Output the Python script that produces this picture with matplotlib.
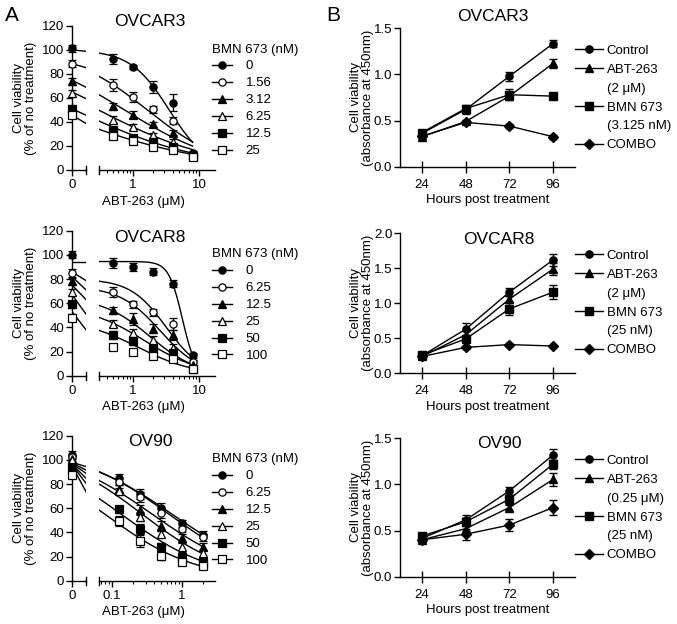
import numpy as np
import matplotlib
matplotlib.use("Agg")
import matplotlib.pyplot as plt
from matplotlib.lines import Line2D

plt.rcParams['font.family'] = ['Liberation Sans', 'DejaVu Sans']
plt.rcParams['font.size'] = 9.5
plt.rcParams['axes.linewidth'] = 1.0

# ---------------- panel A: ABT-263 dose response with BMN 673 ----------------
a_cells = ["OVCAR3", "OVCAR8", "OV90"]
a_bmn = [["0", "1.56", "3.12", "6.25", "12.5", "25"],
         ["0", "6.25", "12.5", "25", "50", "100"],
         ["0", "6.25", "12.5", "25", "50", "100"]]
a_doses = [[0.5, 1, 2, 4, 8],
           [0.5, 1, 2, 4, 8],
           [0.125, 0.25, 0.5, 1, 2]]

# viability at ABT-263 = 0
ovcar3_zero = [101.5, 88.5, 74, 64, 51, 46]
ovcar8_zero = [100, 85, 78, 69, 59, 48]
ov90_zero = [104, 102, 100.5, 99.5, 94, 87.6]

ovcar3_mean = [[92.5, 86, 69, 56, 14],
               [70.6, 61, 50.7, 41, 13],
               [53, 46, 38, 31, 13],
               [42, 36, 29, 23.5, 12.5],
               [33, 27, 23, 19, 12],
               [28.5, 24.4, 19.4, 17, 11]]
ovcar3_err = [[4, 1.5, 5, 7, 2], [5, 4, 3, 3, 2], [3, 3, 2, 2, 2],
              [3, 2, 2, 2, 2], [2, 2, 2, 2, 2], [2, 2, 2, 2, 2]]

ovcar8_mean = [[93, 90, 86, 76, 17],
               [69, 59, 52.5, 43, 11],
               [54, 47, 39, 33.7, 9],
               [43, 35.6, 29.5, 23, 7],
               [33.7, 28.7, 22, 19, 5.5],
               [24, 20, 16.5, 13.5, 5.5]]
ovcar8_err = [[4, 3, 3, 3, 2], [4, 3, 3, 5, 2], [3, 5, 4, 4, 2],
              [3, 3, 3, 3, 2], [3, 3, 3, 3, 2], [2, 2, 2, 2, 2]]

ov90_mean = [[85, 72, 60, 47.5, 38],
             [82, 69, 56, 43, 36],
             [76, 58.5, 45, 35, 28],
             [74, 53, 38.4, 28, 22.6],
             [59, 43, 28, 20, 15.7],
             [49.4, 33, 20.4, 15.7, 12]]
ov90_err = [[3, 4, 4, 3, 3], [3, 4, 4, 3, 3], [3, 4, 4, 4, 3],
            [3, 4, 3, 4, 3], [3, 4, 3, 3, 3], [4, 5, 3, 2, 2]]

zero_err = 3

# fitted curves (top, IC50, hill), bottom = 0
ovcar3_fit = [(100, 3.54, 1.48), (100, 1.65, 0.75), (100, 0.746, 0.585),
              (100, 0.30, 0.483), (100, 0.131, 0.441), (100, 0.052, 0.377)]
ovcar8_fit = [(94.5, 5.59, 4.23), (80, 3.2, 1.6), (74, 2.6, 1.4),
              (65, 1.8, 1.2), (58, 1.5, 1.0), (47, 1.2, 1.0)]
ov90_fit = [(110, 0.72, 0.625), (110, 0.65, 0.66), (110, 0.375, 0.64),
            (110, 0.27, 0.69), (110, 0.135, 0.66), (110, 0.079, 0.66)]

# fitted line across the "0" segment (value at left, value at right)
ovcar3_zline = [(100, 99), (88.6, 85.3), (74.8, 69), (65, 59.5), (51, 45.7), (45.7, 38.8)]
ovcar8_zline = [(94.5, 94.5), (86, 78.7), (82, 71), (75, 63), (67, 51), (53, 38)]
ov90_zline = [(98, 94.4), (97.5, 91.6), (97, 88.9), (96.5, 84.8), (96, 80.6), (95, 73.7)]

a_zero = [ovcar3_zero, ovcar8_zero, ov90_zero]
a_mean = [ovcar3_mean, ovcar8_mean, ov90_mean]
a_err = [ovcar3_err, ovcar8_err, ov90_err]
a_fit = [ovcar3_fit, ovcar8_fit, ov90_fit]
a_zline = [ovcar3_zline, ovcar8_zline, ov90_zline]
a_xlim = [(0.305, 17.5), (0.305, 17.5), (0.065, 2.95)]
a_major = [[1, 10], [1, 10], [0.1, 1]]
a_major_lbl = [["1", "10"], ["1", "10"], ["0.1", "1"]]

# ---------------- panel B: growth over time ----------------
hours = [24, 48, 72, 96]
b_cells = ["OVCAR3", "OVCAR8", "OV90"]
b_groups = ["Control", "ABT-263", "BMN 673", "COMBO"]
b_doses = [["(2 \u03bcM)", "(3.125 nM)"],
           ["(2 \u03bcM)", "(25 nM)"],
           ["(0.25 \u03bcM)", "(25 nM)"]]
b_ylim = [1.5, 2.0, 1.5]
b_yticks = [[0, 0.5, 1.0, 1.5], [0, 0.5, 1.0, 1.5, 2.0], [0, 0.5, 1.0, 1.5]]

ovcar3_abs = [[0.36, 0.62, 0.98, 1.335],
              [0.325, 0.49, 0.765, 1.12],
              [0.37, 0.63, 0.78, 0.765],
              [0.33, 0.48, 0.44, 0.325]]
ovcar3_abs_err = [[0.02, 0.05, 0.05, 0.04], [0.02, 0.02, 0.03, 0.05],
                  [0.02, 0.03, 0.06, 0.02], [0.02, 0.02, 0.02, 0.02]]
ovcar8_abs = [[0.25, 0.63, 1.16, 1.62],
              [0.24, 0.55, 1.06, 1.49],
              [0.26, 0.49, 0.92, 1.16],
              [0.24, 0.37, 0.41, 0.39]]
ovcar8_abs_err = [[0.02, 0.09, 0.06, 0.08], [0.02, 0.05, 0.04, 0.08],
                  [0.02, 0.04, 0.09, 0.1], [0.02, 0.02, 0.02, 0.02]]
ov90_abs = [[0.415, 0.615, 0.93, 1.32],
            [0.40, 0.52, 0.75, 1.055],
            [0.44, 0.595, 0.84, 1.22],
            [0.40, 0.46, 0.56, 0.75]]
ov90_abs_err = [[0.02, 0.05, 0.04, 0.06], [0.02, 0.03, 0.03, 0.07],
                [0.02, 0.04, 0.05, 0.05], [0.02, 0.06, 0.06, 0.08]]
b_abs = [ovcar3_abs, ovcar8_abs, ov90_abs]
b_err = [ovcar3_abs_err, ovcar8_abs_err, ov90_abs_err]

# ------------------------------------------------------------------
W, H = 677, 624
fig = plt.figure(figsize=(W / 100, H / 100), dpi=100)


def add_ax(x0, x1, ytop, ybot):
    return fig.add_axes([x0 / W, 1 - ybot / H, (x1 - x0) / W, (ybot - ytop) / H])


def logistic(x, top, ic50, hill):
    return top / (1 + (x / ic50) ** hill)


a_styles = [('o', 'k'), ('o', 'w'), ('^', 'k'), ('^', 'w'), ('s', 'k'), ('s', 'w')]
b_markers = ['o', '^', 's', 'D']
ms = 5.2
lw = 1.0

a_rows = [(26, 170), (230.7, 375.7), (435.7, 580.7)]
b_rows = [(28.3, 166.7), (233.3, 373.3), (438.3, 576.7)]
a_title_y = [22, 237, 442]
b_title_y = [16.5, 239, 443]


def cap(ax, x, up, down):
    ax.plot([x, x], [-down, up], transform=ax.get_xaxis_transform(),
            color='k', lw=lw, clip_on=False)


for r in range(3):
    ytop, ybot = a_rows[r]
    hpx = ybot - ytop
    ax0 = add_ax(72, 86, ytop, ybot)
    ax1 = add_ax(99, 215, ytop, ybot)

    for ax in (ax0, ax1):
        ax.set_ylim(0, 120)
        ax.spines['top'].set_visible(False)
        ax.spines['right'].set_visible(False)
        ax.patch.set_alpha(0)
    ax1.spines['left'].set_visible(False)
    ax1.set_yticks([])

    ax0.set_xlim(0, 1)
    ax0.set_yticks(range(0, 121, 20))
    ax0.set_xticks([0])
    ax0.set_xticklabels(["0"])
    ax0.tick_params(axis='y', direction='out', length=4, width=lw, pad=1.5)
    ax0.tick_params(axis='x', direction='out', length=4, width=lw, pad=2.5)
    cap(ax0, 1, 4 / hpx, 4 / hpx)

    ax1.set_xscale('log')
    ax1.set_xlim(*a_xlim[r])
    ax1.set_xticks(a_major[r])
    ax1.set_xticklabels(a_major_lbl[r])
    ax1.xaxis.set_minor_formatter(plt.NullFormatter())
    ax1.tick_params(axis='x', which='major', direction='out', length=4, width=lw, pad=2.5)
    ax1.tick_params(axis='x', which='minor', direction='out', length=2.2, width=0.8)
    cap(ax1, a_xlim[r][0], 4 / hpx, 4 / hpx)

    doses = a_doses[r]
    xs = np.logspace(np.log10(a_xlim[r][0]), np.log10(max(doses)), 200)
    for i in range(6):
        m, fc = a_styles[i]
        top, ic, hl = a_fit[r][i]
        ax1.plot(xs, logistic(xs, top, ic, hl), color='k', lw=lw, zorder=2)
        ax0.plot([0, 1], a_zline[r][i], color='k', lw=lw, zorder=2)
        ax1.errorbar(doses, a_mean[r][i], yerr=a_err[r][i], fmt=m, ms=ms,
                     mfc=fc, mec='k', mew=0.9, ecolor='k', elinewidth=lw,
                     capsize=2.6, capthick=lw, clip_on=False, zorder=3)
        ax0.errorbar([0], [a_zero[r][i]], yerr=zero_err, fmt=m, ms=ms,
                     mfc=fc, mec='k', mew=0.9, ecolor='k', elinewidth=lw,
                     capsize=2.6, capthick=lw, clip_on=False, zorder=3)

    fig.text(150 / W, 1 - a_title_y[r] / H, a_cells[r], ha='center', va='center', fontsize=12.5)
    fig.text(143 / W, 1 - (ybot + 31.5) / H, "ABT-263 (\u03bcM)", ha='center', va='center')
    fig.text(25 / W, 1 - (ytop + ybot) / 2 / H, "Cell viability\n(% of no treatment)",
             ha='center', va='center', rotation=90, linespacing=1.1)

    handles = [Line2D([], [], color='k', lw=lw, marker=m, ms=ms, mfc=fc, mec='k', mew=0.9)
               for m, fc in a_styles]
    ax1.legend(handles, a_bmn[r], title="BMN 673 (nM)", loc='upper left',
               bbox_to_anchor=(212 / W, 1 - (ytop + 17.5) / H),
               bbox_transform=fig.transFigure, frameon=False, borderpad=0,
               borderaxespad=0, handlelength=1.55, handletextpad=1.0,
               labelspacing=0.36, alignment='left', fontsize=9.5, title_fontsize=9.5)

for r in range(3):
    ytop, ybot = b_rows[r]
    ax = add_ax(400, 575, ytop, ybot)
    ax.spines['top'].set_visible(False)
    ax.spines['right'].set_visible(False)
    ax.set_xlim(12, 108)
    ax.set_ylim(0, b_ylim[r])
    ax.set_xticks(hours)
    ax.set_yticks(b_yticks[r])
    ax.yaxis.set_major_formatter(plt.FormatStrFormatter('%.1f'))
    ax.tick_params(axis='x', direction='inout', length=8, width=lw, pad=4.5)
    ax.tick_params(axis='y', direction='out', length=4, width=lw, pad=1.5)
    for g in range(4):
        ax.errorbar(hours, b_abs[r][g], yerr=b_err[r][g], fmt='-', marker=b_markers[g],
                    ms=ms if g != 3 else ms + 0.3, color='k', lw=lw, elinewidth=lw,
                    capsize=2.8, capthick=lw, clip_on=False, zorder=3)
    fig.text(487.5 / W, 1 - (ybot + 33.5) / H, "Hours post treatment", ha='center', va='center')
    fig.text(493 / W if r == 0 else 499 / W, 1 - b_title_y[r] / H, b_cells[r],
             ha='center', va='center', fontsize=12.5)
    fig.text(362 / W, 1 - (ytop + ybot) / 2 / H, "Cell viability\n(absorbance at 450nm)",
             ha='center', va='center', rotation=90, linespacing=1.1)

    blank = Line2D([], [], color='none')
    handles = [Line2D([], [], color='k', lw=lw, marker=b_markers[g], ms=ms) for g in range(4)]
    labels = ["Control", "ABT-263", b_doses[r][0], "BMN 673", b_doses[r][1], "COMBO"]
    hl = [handles[0], handles[1], blank, handles[2], blank, handles[3]]
    ax.legend(hl, labels, loc='upper left', bbox_to_anchor=(575 / W, 1 - (ytop + 16.5) / H),
              bbox_transform=fig.transFigure, frameon=False, borderpad=0,
              borderaxespad=0, handlelength=2.1, handletextpad=0.3,
              labelspacing=0.5, fontsize=9.5)

fig.text(11.5 / W, 1 - 15.5 / H, "A", ha='center', va='center', fontsize=15)
fig.text(333 / W, 1 - 15.5 / H, "B", ha='center', va='center', fontsize=15)

fig.savefig("out.png", dpi=100)
